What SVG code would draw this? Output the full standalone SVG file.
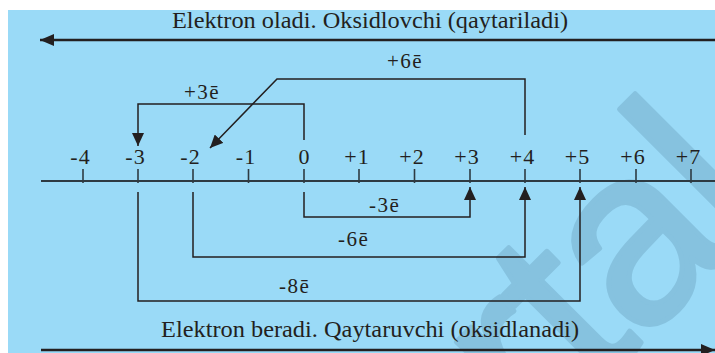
<svg xmlns="http://www.w3.org/2000/svg" width="715" height="353" viewBox="0 0 715 353">
<style>
.t{font-family:"Liberation Serif","Times New Roman",serif;fill:#231f20}
.big{font-size:24px}
.num{font-size:22px;letter-spacing:1px;text-anchor:middle}
.lab{font-size:21px;letter-spacing:1.5px}
.c{fill:none;stroke:#231f20;stroke-width:1.5}
.axis{stroke:#2e3a42;stroke-width:2}
.tick{stroke:#2e3a42;stroke-width:1.6}
.wm{font-family:"Liberation Sans",Arial,sans-serif;font-size:250px;letter-spacing:-4px;fill:#86c2df;stroke:#86c2df;stroke-width:5;stroke-linejoin:round}
</style>
<defs>
<marker id="ah" markerWidth="13" markerHeight="12" refX="13" refY="6" orient="auto" markerUnits="userSpaceOnUse"><path d="M0,0 L13,6 L0,12 z" fill="#231f20"/></marker>
<marker id="bh" markerWidth="14" markerHeight="12" refX="14" refY="6" orient="auto" markerUnits="userSpaceOnUse"><path d="M0,0 L14,6 L0,12 z" fill="#231f20"/></marker>
</defs>
<rect x="0" y="0" width="715" height="353" fill="#ffffff"/>
<rect x="8" y="10" width="707" height="343" fill="#9adaf7"/>
<g id="watermark"><text class="wm" transform="translate(538,447) rotate(-45)">rtal</text></g>
<g id="titles">
<text class="t big" x="172" y="28" textLength="396" lengthAdjust="spacingAndGlyphs">Elektron oladi. Oksidlovchi (qaytariladi)</text>
<text class="t big" x="161" y="337" textLength="418" lengthAdjust="spacingAndGlyphs">Elektron beradi. Qaytaruvchi (oksidlanadi)</text>
</g>
<g id="axis">
<line class="axis" x1="41" y1="181" x2="715" y2="181"/>
<g class="tick">
<line x1="83" y1="169" x2="83" y2="183"/>
<line x1="138" y1="169" x2="138" y2="183"/>
<line x1="193" y1="169" x2="193" y2="183"/>
<line x1="248.5" y1="169" x2="248.5" y2="183"/>
<line x1="304" y1="169" x2="304" y2="183"/>
<line x1="359" y1="169" x2="359" y2="183"/>
<line x1="414.5" y1="169" x2="414.5" y2="183"/>
<line x1="470" y1="169" x2="470" y2="183"/>
<line x1="525" y1="169" x2="525" y2="183"/>
<line x1="580" y1="169" x2="580" y2="183"/>
<line x1="636" y1="169" x2="636" y2="183"/>
<line x1="691" y1="169" x2="691" y2="183"/>
</g>
<text class="t num" x="80.5" y="164">-4</text>
<text class="t num" x="135.5" y="164">-3</text>
<text class="t num" x="190.5" y="164">-2</text>
<text class="t num" x="246" y="164">-1</text>
<text class="t num" x="304.5" y="164">0</text>
<text class="t num" x="357" y="164">+1</text>
<text class="t num" x="412" y="164">+2</text>
<text class="t num" x="467" y="164">+3</text>
<text class="t num" x="522.5" y="164">+4</text>
<text class="t num" x="577.5" y="164">+5</text>
<text class="t num" x="633" y="164">+6</text>
<text class="t num" x="688.5" y="164">+7</text>
</g>
<g id="connectors">
<line x1="715" y1="40" x2="40" y2="40" stroke="#231f20" stroke-width="2.6" marker-end="url(#bh)"/>
<line x1="41" y1="350" x2="715" y2="350" stroke="#231f20" stroke-width="2.6" marker-end="url(#bh)"/>
<polyline class="c" points="304,140 304,104 138,104 138,146" marker-end="url(#ah)"/>
<polyline class="c" points="525,135 525,79 277,79 210,148" marker-end="url(#ah)"/>
<polyline class="c" points="304,192 304,217 470,217 470,187" marker-end="url(#ah)"/>
<polyline class="c" points="193,192 193,257 525,257 525,187" marker-end="url(#ah)"/>
<polyline class="c" points="138,192 138,301 580,301 580,187" marker-end="url(#ah)"/>
</g>
<g id="labels">
<text class="t lab" x="184" y="99">+3ē</text>
<text class="t lab" x="387" y="68">+6ē</text>
<text class="t lab" x="369" y="212">-3ē</text>
<text class="t lab" x="338" y="246">-6ē</text>
<text class="t lab" x="279" y="293">-8ē</text>
</g>
</svg>
